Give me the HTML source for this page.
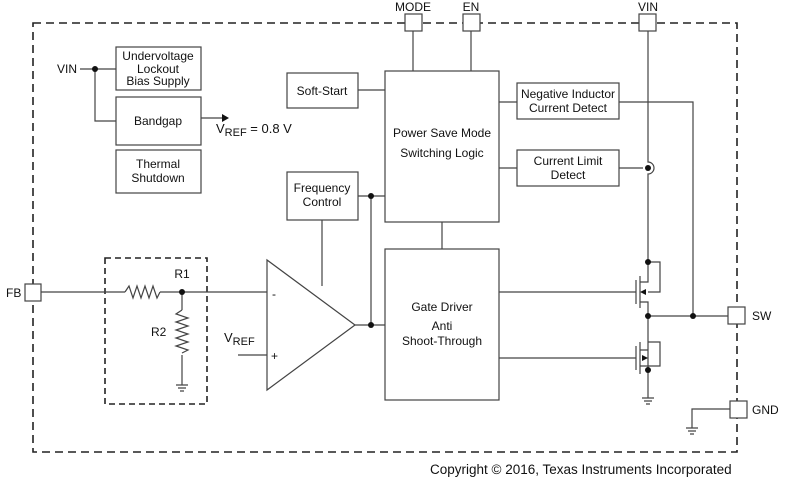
<!DOCTYPE html>
<html><head><style>body{margin:0;background:#fff}svg{display:block}text{font-family:"Liberation Sans",Arial,sans-serif;font-size:12px;fill:#111}</style></head><body>
<svg width="788" height="480" viewBox="0 0 788 480" xmlns="http://www.w3.org/2000/svg">
<g fill="none" stroke="#222" stroke-width="1.6">
<rect x="33" y="23" width="704" height="429" stroke-dasharray="8,5"/>
<rect x="105" y="258" width="102" height="146" stroke-dasharray="6,4"/>
</g>
<g fill="#fff" stroke="#444" stroke-width="1.2">
<rect x="116" y="47" width="85" height="43"/>
<rect x="116" y="97" width="85" height="48"/>
<rect x="116" y="150" width="85" height="43"/>
<rect x="287" y="73" width="71" height="35"/>
<rect x="287" y="172" width="71" height="48"/>
<rect x="385" y="71" width="114" height="151"/>
<rect x="517" y="83" width="102" height="36"/>
<rect x="517" y="150" width="102" height="36"/>
<rect x="385" y="249" width="114" height="151"/>
<rect x="405" y="14" width="17" height="17"/>
<rect x="463" y="14" width="17" height="17"/>
<rect x="639" y="14" width="17" height="17"/>
<rect x="25" y="284" width="16" height="17"/>
<rect x="728" y="307" width="17" height="17"/>
<rect x="730" y="401" width="17" height="17"/>
<polygon points="267,260 267,390 355,325"/>
</g>
<g fill="none" stroke="#444" stroke-width="1.2">
<path d="M80,69H116M95,69V121H116M201,118H222"/>
<path d="M358,90H385M358,196H385M371,196V325M322,220V286M355,325H385"/>
<path d="M413,31V71M471,31V71M499,102H517M499,168H517M619,102H693V316M619,168H643"/>
<path d="M442,222V249"/>
<path d="M41,292H125M160,292H267M182,292V310M182,355V385"/>
<path d="M125,292l4,-6l4,12l4,-12l4,12l4,-12l4,12l4,-12l4,12l3,-6"/>
<path d="M182,310l-6,4l12,4l-12,4l12,4l-12,4l12,4l-12,4l12,4l-12,4l12,4l-6,3"/>
<path d="M176,385H188M178,388H186M180,391H184"/>
<path d="M238,355H267"/>
<path d="M648,31V162a6,6 0 0 1 0,12V262"/>
<path d="M499,292H636M499,358H636"/>
<path d="M636,280V304M640,276V308M640,282H648V262M640,302H648V370M648,262H660V292H648"/>
<path d="M636,346V370M640,342V374M640,350H648M640,366H648V398M648,366H660V342H648"/>
<path d="M648,316H728"/>
<path d="M642,398H654M644,401H652M646,404H650"/>
<path d="M730,409H692V428M686,428H698M688,431H696M690,434H694"/>
</g>
<g fill="#111">
<path d="M222,114L229,118L222,122Z"/>
<path d="M640,292l6,-3v6z"/>
<path d="M648,358l-6,-3v6z"/>
<circle cx="95" cy="69" r="3"/><circle cx="371" cy="196" r="3"/><circle cx="371" cy="325" r="3"/>
<circle cx="182" cy="292" r="3"/><circle cx="648" cy="168" r="3"/><circle cx="648" cy="262" r="3"/>
<circle cx="648" cy="316" r="3"/><circle cx="693" cy="316" r="3"/><circle cx="648" cy="370" r="3"/>
</g>
<g text-anchor="middle">
<text x="158" y="60">Undervoltage</text><text x="158" y="73">Lockout</text><text x="158" y="85">Bias Supply</text>
<text x="158" y="125">Bandgap</text>
<text x="158" y="168">Thermal</text><text x="158" y="182">Shutdown</text>
<text x="322" y="95">Soft-Start</text>
<text x="322" y="192">Frequency</text><text x="322" y="206">Control</text>
<text x="442" y="137">Power Save Mode</text><text x="442" y="157">Switching Logic</text>
<text x="568" y="98">Negative Inductor</text><text x="568" y="112">Current Detect</text>
<text x="568" y="165">Current Limit</text><text x="568" y="179">Detect</text>
<text x="442" y="311">Gate Driver</text><text x="442" y="330">Anti</text><text x="442" y="345">Shoot-Through</text>
<text x="413" y="11">MODE</text><text x="471" y="11">EN</text><text x="648" y="11">VIN</text>
<text x="182" y="278">R1</text>
</g>
<text x="57" y="73">VIN</text>
<text x="216" y="133" style="font-size:13px">V<tspan font-size="11" dy="3">REF</tspan><tspan dy="-3"> = 0.8 V</tspan></text>
<text x="224" y="342" style="font-size:13px">V<tspan font-size="11" dy="3">REF</tspan></text>
<text x="151" y="336">R2</text>
<text x="272" y="298">-</text><text x="271" y="360">+</text>
<text x="6" y="297">FB</text>
<text x="752" y="320">SW</text>
<text x="752" y="414">GND</text>
<text x="430" y="474" style="font-size:13.5px">Copyright © 2016, Texas Instruments Incorporated</text>
</svg>
</body></html>
